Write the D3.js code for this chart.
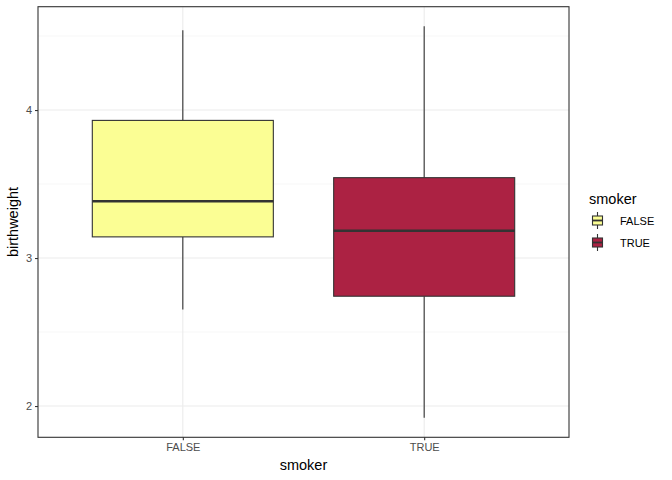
<!DOCTYPE html>
<html>
<head>
<meta charset="utf-8">
<script src="https://cdn.jsdelivr.net/npm/d3@7"></script>
<style>
  body { margin: 0; background: #fff; }
  text { font-family: "Liberation Sans", Arial, Helvetica, sans-serif; }
</style>
</head>
<body>
<div id="chart"></div>
<script>
// groups and box statistics
var groups = ["FALSE", "TRUE"];
var lowerWhisker = [2.652, 1.921];
var q1 = [3.143, 2.742];
var median = [3.384, 3.184];
var q3 = [3.930, 3.543];
var upperWhisker = [4.539, 4.566];
var fillColors = ["#FBFE94", "#AC2243"];
var yTicks = [2, 3, 4];
var yMinor = [2.5, 3.5, 4.5];

var margin = {top: 6.7, right: 103, bottom: 42.7, left: 38},
    width = 672 - margin.left - margin.right,
    height = 480 - margin.top - margin.bottom;

var svg = d3.select("#chart")
  .append("svg")
    .attr("width", 672)
    .attr("height", 480)
  .append("g")
    .attr("transform", "translate(" + margin.left + "," + margin.top + ")");

var data = groups.map(function(g, i) {
  return {group: g, lo: lowerWhisker[i], q1: q1[i], med: median[i], q3: q3[i], hi: upperWhisker[i], color: fillColors[i]};
});

// ggplot style expansion: 5% continuous, 0.6 discrete
var yMin = d3.min(lowerWhisker), yMax = d3.max(upperWhisker);
var pad = (yMax - yMin) * 0.05;
var y = d3.scaleLinear()
  .domain([yMin - pad, yMax + pad])
  .range([height, 0]);

var step = width / (groups.length - 1 + 1.2);
var x = d3.scalePoint()
  .domain(groups)
  .range([0.6 * step, width - 0.6 * step]);

// minor grid
svg.append("g").selectAll("line")
  .data(yMinor).enter().append("line")
    .attr("x1", 0).attr("x2", width)
    .attr("y1", function(d) { return y(d); })
    .attr("y2", function(d) { return y(d); })
    .attr("stroke", "#F2F2F2").attr("stroke-width", 0.55);

// major grid
svg.append("g").selectAll("line")
  .data(yTicks).enter().append("line")
    .attr("x1", 0).attr("x2", width)
    .attr("y1", function(d) { return y(d); })
    .attr("y2", function(d) { return y(d); })
    .attr("stroke", "#EBEBEB").attr("stroke-width", 1.1);
svg.append("g").selectAll("line")
  .data(groups).enter().append("line")
    .attr("y1", 0).attr("y2", height)
    .attr("x1", function(d) { return x(d); })
    .attr("x2", function(d) { return x(d); })
    .attr("stroke", "#EBEBEB").attr("stroke-width", 1.1);

var boxW = step * 0.75;

var box = svg.append("g").selectAll("g")
  .data(data).enter().append("g");

// whiskers
box.append("line")
  .attr("x1", function(d) { return x(d.group); })
  .attr("x2", function(d) { return x(d.group); })
  .attr("y1", function(d) { return y(d.hi); })
  .attr("y2", function(d) { return y(d.q3); })
  .attr("stroke", "#333333").attr("stroke-width", 1.1);
box.append("line")
  .attr("x1", function(d) { return x(d.group); })
  .attr("x2", function(d) { return x(d.group); })
  .attr("y1", function(d) { return y(d.q1); })
  .attr("y2", function(d) { return y(d.lo); })
  .attr("stroke", "#333333").attr("stroke-width", 1.1);

// boxes and medians
box.append("rect")
  .attr("x", function(d) { return x(d.group) - boxW / 2; })
  .attr("width", boxW)
  .attr("y", function(d) { return y(d.q3); })
  .attr("height", function(d) { return y(d.q1) - y(d.q3); })
  .attr("fill", function(d) { return d.color; })
  .attr("stroke", "#333333").attr("stroke-width", 1.1);
box.append("line")
  .attr("x1", function(d) { return x(d.group) - boxW / 2; })
  .attr("x2", function(d) { return x(d.group) + boxW / 2; })
  .attr("y1", function(d) { return y(d.med); })
  .attr("y2", function(d) { return y(d.med); })
  .attr("stroke", "#333333").attr("stroke-width", 2.5);

// panel border
svg.append("rect")
  .attr("width", width).attr("height", height)
  .attr("fill", "none").attr("stroke", "#333333").attr("stroke-width", 1.1);

// axes
var yAxis = svg.append("g")
  .call(d3.axisLeft(y).tickValues(yTicks).tickSize(3).tickPadding(3).tickFormat(d3.format("d")));
yAxis.select(".domain").remove();
yAxis.selectAll(".tick line").attr("stroke", "#333333").attr("stroke-width", 1.1);
yAxis.selectAll(".tick text").attr("fill", "#4D4D4D").style("font-size", "11px");

var xAxis = svg.append("g")
  .attr("transform", "translate(0," + height + ")")
  .call(d3.axisBottom(x).tickSize(3).tickPadding(3));
xAxis.select(".domain").remove();
xAxis.selectAll(".tick line").attr("stroke", "#333333").attr("stroke-width", 1.1);
xAxis.selectAll(".tick text").attr("fill", "#4D4D4D").style("font-size", "11px");

// axis titles
svg.append("text")
  .attr("x", width / 2).attr("y", height + 33)
  .attr("text-anchor", "middle")
  .style("font-size", "14.5px")
  .text("smoker");
svg.append("text")
  .attr("transform", "translate(" + (-margin.left + 18) + "," + (height / 2) + ") rotate(-90)")
  .attr("text-anchor", "middle")
  .style("font-size", "14.5px")
  .text("birthweight");

// legend
var legend = d3.select("svg").append("g")
  .attr("transform", "translate(589,0)");
legend.append("text")
  .attr("x", 0).attr("y", 204)
  .style("font-size", "14.5px")
  .text("smoker");

var key = legend.selectAll("g.key")
  .data(data).enter().append("g")
  .attr("class", "key")
  .attr("transform", function(d, i) { return "translate(0," + (212 + i * 22) + ")"; });
key.append("line")
  .attr("x1", 8.5).attr("x2", 8.5).attr("y1", 0).attr("y2", 17)
  .attr("stroke", "#333333").attr("stroke-width", 1.1);
key.append("rect")
  .attr("x", 3.5).attr("y", 4).attr("width", 10).attr("height", 9)
  .attr("fill", function(d) { return d.color; })
  .attr("stroke", "#333333").attr("stroke-width", 1.1);
key.append("line")
  .attr("x1", 3.5).attr("x2", 13.5).attr("y1", 8.5).attr("y2", 8.5)
  .attr("stroke", "#333333").attr("stroke-width", 1.8);
key.append("text")
  .attr("x", 31).attr("y", 12.6)
  .style("font-size", "11px")
  .attr("fill", "#000")
  .text(function(d) { return d.group; });
</script>
</body>
</html>
